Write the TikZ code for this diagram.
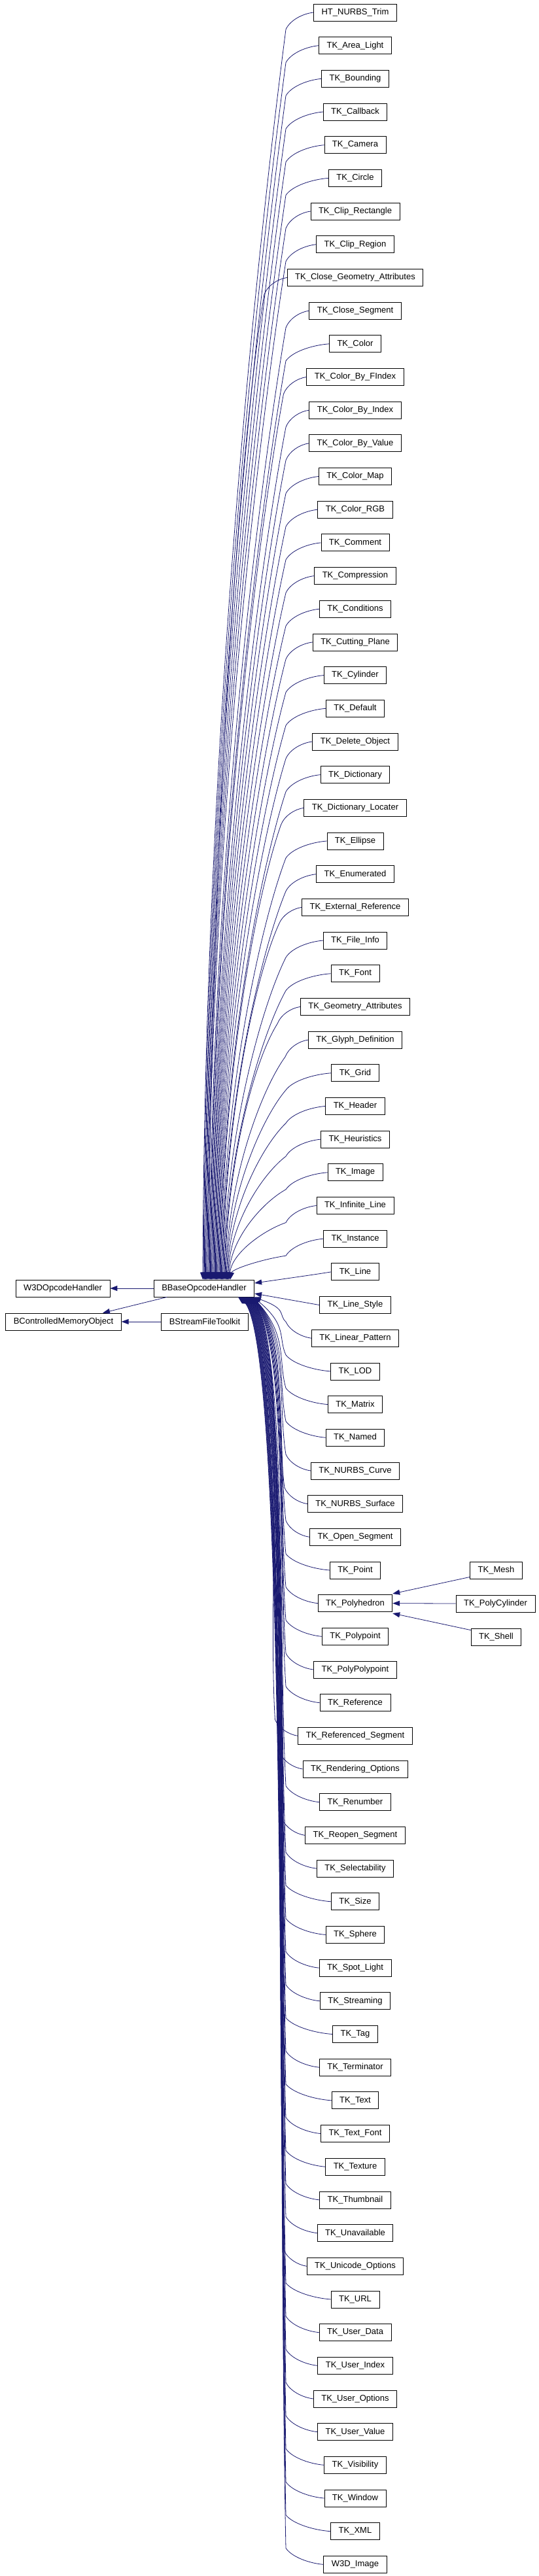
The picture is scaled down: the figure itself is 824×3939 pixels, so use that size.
\documentclass[tikz,border=0pt]{standalone}
\usepackage{fontspec}
\setmainfont{Liberation Sans}
\usetikzlibrary{arrows.meta}
\definecolor{navyc}{RGB}{25,25,112}
\newdimen\xwdim
\begin{document}
\begin{tikzpicture}[x=1pt,y=-1pt,
  cls/.style={draw=black, line width=0.8pt, fill=white, font=\fontsize{13}{15}\selectfont,
    inner xsep=12pt, inner ysep=0pt, minimum height=26pt},
  edge/.style={draw=navyc, line width=0.8pt, -{Triangle[length=11pt,width=8pt]}}]
\useasboundingbox (0,0) rectangle (824,3939);

\foreach \n [count=\i] in {HT\_NURBS\_Trim, TK\_Area\_Light, TK\_Bounding, TK\_Callback, TK\_Camera, TK\_Circle, TK\_Clip\_Rectangle, TK\_Clip\_Region, TK\_Close\_Geometry\_Attributes, TK\_Close\_Segment, TK\_Color, TK\_Color\_By\_FIndex, TK\_Color\_By\_Index, TK\_Color\_By\_Value, TK\_Color\_Map, TK\_Color\_RGB, TK\_Comment, TK\_Compression, TK\_Conditions, TK\_Cutting\_Plane, TK\_Cylinder, TK\_Default, TK\_Delete\_Object, TK\_Dictionary, TK\_Dictionary\_Locater, TK\_Ellipse, TK\_Enumerated, TK\_External\_Reference, TK\_File\_Info, TK\_Font, TK\_Geometry\_Attributes, TK\_Glyph\_Definition, TK\_Grid, TK\_Header, TK\_Heuristics, TK\_Image, TK\_Infinite\_Line, TK\_Instance, TK\_Line, TK\_Line\_Style, TK\_Linear\_Pattern, TK\_LOD, TK\_Matrix, TK\_Named, TK\_NURBS\_Curve, TK\_NURBS\_Surface, TK\_Open\_Segment, TK\_Point, TK\_Polyhedron, TK\_Polypoint, TK\_PolyPolypoint, TK\_Reference, TK\_Referenced\_Segment, TK\_Rendering\_Options, TK\_Renumber, TK\_Reopen\_Segment, TK\_Selectability, TK\_Size, TK\_Sphere, TK\_Spot\_Light, TK\_Streaming, TK\_Tag, TK\_Terminator, TK\_Text, TK\_Text\_Font, TK\_Texture, TK\_Thumbnail, TK\_Unavailable, TK\_Unicode\_Options, TK\_URL, TK\_User\_Data, TK\_User\_Index, TK\_User\_Options, TK\_User\_Value, TK\_Visibility, TK\_Window, TK\_XML, W3D\_Image}{
  \node[cls] (c\i) at (543,{19+(\i-1)*50.68}) {\n};
}

\node[cls] (bb) at (312,1970) {BBaseOpcodeHandler};
\node[cls] (w3d) at (96,1970) {W3DOpcodeHandler};
\node[cls] (bcm) at (97,2021) {BControlledMemoryObject};
\node[cls] (bsf) at (313,2021) {BStreamFileToolkit};

\node[cls] (mesh) at (758.5,2401) {TK\_Mesh};
\node[cls] (pcyl) at (757.5,2452) {TK\_PolyCylinder};
\node[cls] (shell) at (758.5,2503) {TK\_Shell};

% upper children
\foreach \i in {1,...,38}{
  \pgfextractx{\xwdim}{\pgfpointanchor{c\i}{west}}
  \pgfmathsetmacro\xw{\xwdim}
  \pgfmathsetmacro\bx{min(437,\xw-35)}
  \pgfmathsetmacro\w{\xw-\bx}
  \pgfmathsetmacro\ca{\xw-0.4*\w}
  \pgfmathsetmacro\cb{\bx+0.15*\w}
  \pgfmathsetmacro\yc{19+(\i-1)*50.68}
  \pgfmathsetmacro\dx{-2+(\i-1)*42/37}
  \pgfmathsetmacro\by{\yc+26}
  \pgfmathsetmacro\L{1957-\by}
  \pgfmathsetmacro\pay{1957-0.45*\L}
  \pgfmathsetmacro\pax{315+\dx}
  \pgfmathsetmacro\pby{\by+0.15*\L}
  \draw[edge] (c\i.west) .. controls (\ca,\yc+2) and (\cb,\yc+12) .. (\bx,\by)
     .. controls (\bx-37,\pby) and (\pax,\pay) .. ([xshift=\dx pt]bb.north);
}

% lower children
\foreach \i in {41,...,78}{
  \pgfextractx{\xwdim}{\pgfpointanchor{c\i}{west}}
  \pgfmathsetmacro\xw{\xwdim}
  \pgfmathsetmacro\bx{min(437,\xw-35)}
  \pgfmathsetmacro\w{\xw-\bx}
  \pgfmathsetmacro\ca{\xw-0.4*\w}
  \pgfmathsetmacro\cb{\bx+0.15*\w}
  \pgfmathsetmacro\yc{19+(\i-1)*50.68}
  \pgfmathsetmacro\dx{76-(\i-41)*24/37}
  \pgfmathsetmacro\by{\yc-25}
  \pgfmathsetmacro\L{\by-1983}
  \pgfmathsetmacro\pay{1983+min(60,0.5*\L)}
  \pgfmathsetmacro\pby{\by-0.3*\L}
  \draw[edge] (c\i.west) .. controls (\ca,\yc-2) and (\cb,\yc-12) .. (\bx,\by)
     .. controls (\bx-12,\pby) and (440,\pay) .. ([xshift=\dx pt]bb.south);
}

\draw[edge] (c39.west) .. controls (480,1949) .. ([yshift=8pt]bb.east);
\draw[edge] (c40.west) -- ([yshift=-8pt]bb.east);

\draw[edge] (bb.west) -- (w3d.east);
\draw[edge] (bsf.west) -- (bcm.east);
\draw[edge] ([xshift=-57pt]bb.south) -- ([xshift=60pt]bcm.north);

\draw[edge] ([yshift=3pt]mesh.south west) -- ([yshift=15pt]pcyl.west -| c49.east);
\draw[edge] (pcyl.west) -- (c49.east);
\draw[edge] ([yshift=-3pt]shell.north west) -- ([yshift=-15pt]pcyl.west -| c49.east);
\end{tikzpicture}
\end{document}
